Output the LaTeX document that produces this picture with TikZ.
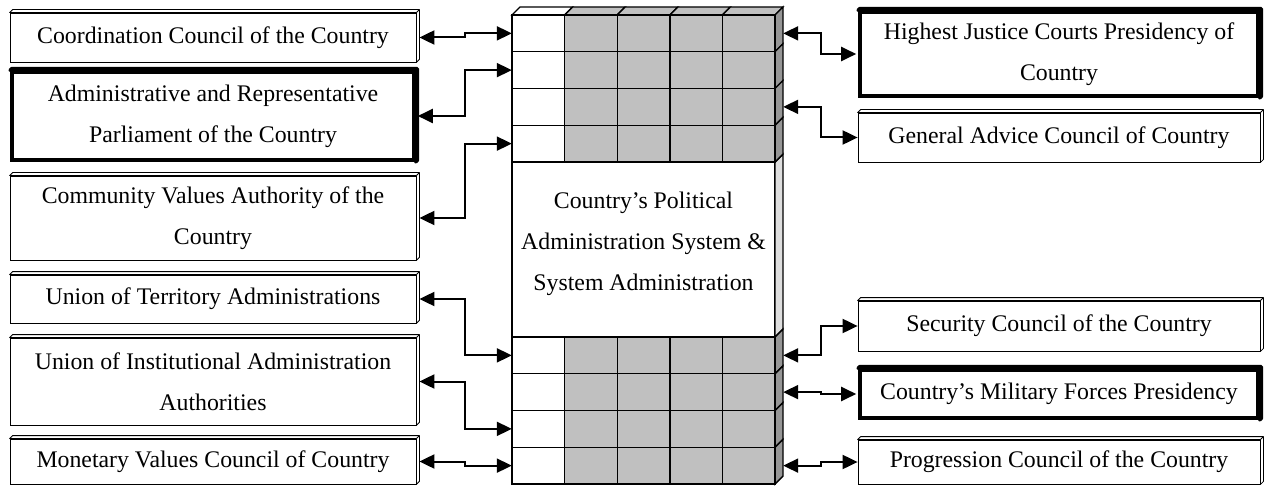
\documentclass[tikz,border=0pt]{standalone}
\usepackage{fontspec}
\setmainfont{Liberation Serif}
\usepackage{xcolor}
\usepackage{tikz}
\usetikzlibrary{arrows.meta}
\definecolor{cellgray}{RGB}{192,192,192}
\definecolor{sidegray}{RGB}{150,150,150}
\definecolor{sidelight}{RGB}{222,222,222}
\tikzset{
    tbox/.style = {align=center, inner sep=0pt, text centered, font=\fontsize{23.8}{41}\selectfont},
    org_box/.style = {tbox, rectangle, draw=black, fill=white, line width=0.8pt, minimum width=406},
    key_box/.style = {tbox, rectangle, draw=black, fill=white, line width=3.6pt, minimum width=402},
    row_box/.style = {rectangle, inner sep=0pt, minimum width=263, minimum height=36.75},
    grid_line/.style = {draw=black, line width=1.4pt},
    link/.style = {<->, >={Triangle[length=15pt,width=14pt]}, line width=2pt}
}
\newcommand{\bevelbox}[3]{%
    \draw[line width=#1, fill=white, line join=round] (#3.north west) -- ++(#2,-#2) -- ([shift={(#2,-#2)}]#3.north east)
        -- ([shift={(#2,-#2)}]#3.south east) -- (#3.south east) -- (#3.north east) -- cycle;
    \draw[line width=#1] (#3.north east) -- ++(#2,-#2);}

\begin{document}
\begin{tikzpicture}[x=1pt, y=-1pt]
    \useasboundingbox (0,0) rectangle (1265,486);
    \node [org_box, minimum height=49] (L1) at (213,37.5) {Coordination Council of the Country};
    \node [key_box, minimum height=88] (L2) at (213,116) {Administrative and Representative\\Parliament of the Country};
    \node [org_box, minimum height=84] (L3) at (213,218) {Community Values Authority of the\\Country};
    \node [org_box, minimum height=48] (L4) at (213,299) {Union of Territory Administrations};
    \node [org_box, minimum height=87] (L5) at (213,381.5) {Union of Institutional Administration\\Authorities};
    \node [org_box, minimum height=45] (L6) at (213,461.5) {Monetary Values Council of Country};
    \node [key_box, minimum height=84, minimum width=398] (R1) at (1059,54) {Highest Justice Courts Presidency of\\Country};
    \node [org_box, minimum height=49, minimum width=402] (R2) at (1059,137.5) {General Advice Council of Country};
    \node [org_box, minimum height=50, minimum width=402] (R3) at (1059,326) {Security Council of the Country};
    \node [key_box, minimum height=48, minimum width=398] (R4) at (1059,394) {Country's Military Forces Presidency};
    \node [org_box, minimum height=44, minimum width=402] (R5) at (1059,462) {Progression Council of the Country};
    \foreach \b in {L1,L3,L4,L5,L6,R2,R3,R5} \bevelbox{0.8pt}{3}{\b};
    \foreach \b in {L2,R1,R4} \bevelbox{3.6pt}{1.5}{\b};

    \foreach \x/\f in {512/white,564.6/cellgray,617.2/cellgray,669.8/cellgray,722.4/cellgray}
        \draw[grid_line, fill=\f] (\x,15) -- ++(8,-8) -- ++(52.6,0) -- ++(-8,8) -- cycle;
    \draw[grid_line, fill=white] (512,162) rectangle (775,337);
    \draw[grid_line, fill=sidelight] (775,162) -- ++(8,-8) -- ++(0,175) -- ++(-8,8) -- cycle;
    \foreach \y in {15,51.75,88.5,125.25,337,373.75,410.5,447.25} {
        \draw[grid_line, fill=sidegray] (775,\y) -- ++(8,-8) -- ++(0,36.75) -- ++(-8,8) -- cycle;
        \draw[grid_line, fill=cellgray] (564.6,\y) rectangle ++(210.4,36.75);
        \draw[grid_line, fill=white] (512,\y) rectangle ++(52.6,36.75);
        \foreach \x in {617.2,669.8,722.4} \draw[grid_line] (\x,\y) -- ++(0,36.75);
    }
    \foreach \i/\y in {1/33.375,2/70.125,3/106.875,4/143.625}
        \node [row_box] (t\i) at (643.5,\y) {};
    \foreach \i/\y in {1/355.375,2/392.125,3/428.875,4/465.625}
        \node [row_box] (b\i) at (643.5,\y) {};
    \node [tbox] (sys) at (643.5,244) {Country's Political\\Administration System \&\\System Administration};

    \coordinate (lx) at (465,0);
    \coordinate (rx) at (821,0);
    \draw [link] ([xshift=3]L1.east) -| (lx |- t1.west) -- (t1.west);
    \draw [link] ([xshift=2]L2.east) -| (lx |- t2.west) -- (t2.west);
    \draw [link] ([xshift=3]L3.east) -| (lx |- t4.west) -- (t4.west);
    \draw [link] ([xshift=3]L4.east) -| (lx |- b1.west) -- (b1.west);
    \draw [link] ([xshift=3]L5.east) -| (lx |- b3.west) -- (b3.west);
    \draw [link] ([xshift=3]L6.east) -| (lx |- b4.west) -- (b4.west);
    \draw [link] ([xshift=8]t1.east) -| (rx |- R1.west) -- ([xshift=-2]R1.west);
    \draw [link] ([xshift=8]t3.east) -| (rx |- R2.west) -- (R2.west);
    \draw [link] ([xshift=8]b1.east) -| (rx |- R3.west) -- (R3.west);
    \draw [link] ([xshift=8]b2.east) -| (rx |- R4.west) -- ([xshift=-2]R4.west);
    \draw [link] ([xshift=8]b4.east) -| (rx |- R5.west) -- (R5.west);
\end{tikzpicture}
\end{document}
